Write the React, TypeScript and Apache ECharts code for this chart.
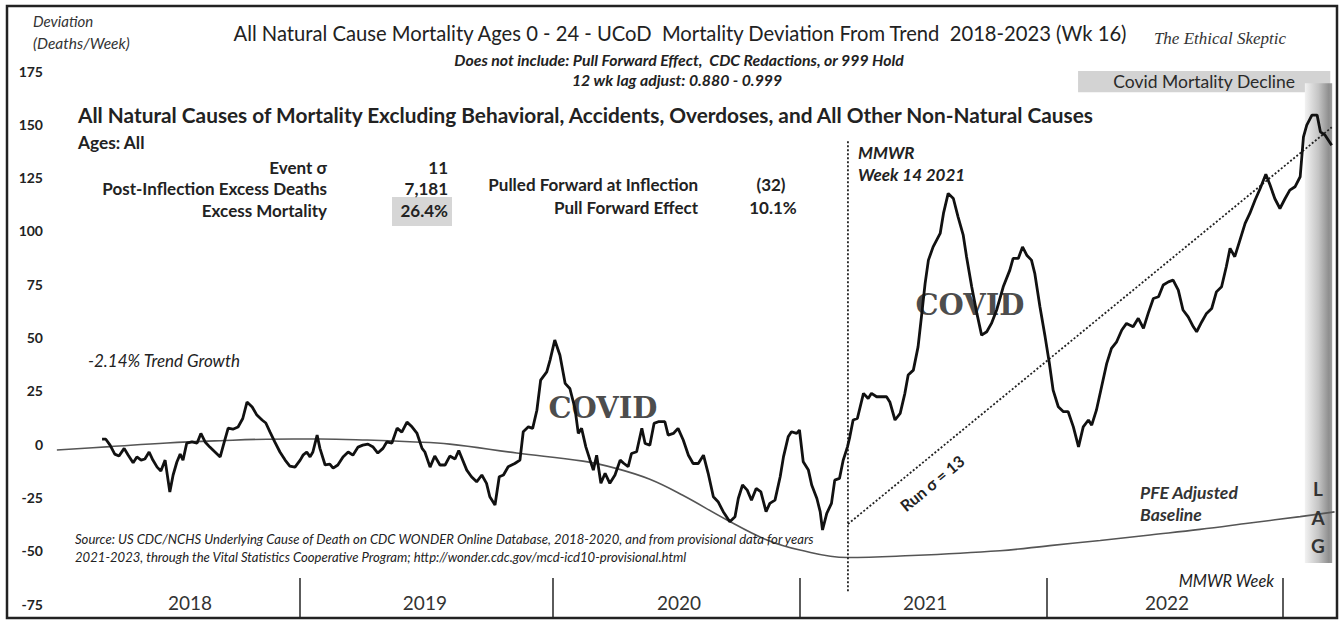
import React, { useEffect, useRef } from "react";
import * as echarts from "echarts";

// ---- Data ----
// x = MMWR week index counted from the first week of 2018, y = deaths/week deviation
const deviationPoints: [number, number][] = [
  [10.0, 2.3], [10.8, 2.3], [11.7, -0.5], [12.7, -4.7], [13.6, -5.6], [14.7, -2], [15.5, -5], [16.6, -8.8],
  [17.4, -6], [18.3, -7.5], [19.1, -7], [20.0, -3.7], [20.8, -7.5], [21.7, -10.8], [22.5, -12.6], [23.4, -7.5],
  [24.4, -22.5], [25.1, -14.5], [25.9, -8.4], [26.6, -4.7], [27.2, -7.5], [28.0, 0.5], [29.1, 1], [30.2, 0.5],
  [31.0, 5], [31.9, 1], [32.9, -1.4], [34.0, -3.7], [35.1, -6], [35.9, 0.5], [36.8, 7.5], [37.8, 7],
  [38.9, 8], [39.9, 12], [40.8, 19.7], [41.9, 17.4], [42.9, 13.6], [44.0, 11.3], [44.8, 9.9], [45.7, 5.6],
  [46.7, 1], [47.8, -3.7], [48.9, -7.5], [49.9, -10.3], [51.0, -10.8], [52.1, -7.5], [52.7, -5.2], [53.5, -3.7],
  [54.2, -6], [54.8, -3.7], [55.7, 4.2], [56.3, -2], [57.4, -9.8], [58.4, -9.4], [59.1, -11.3], [60.1, -9.8],
  [61.2, -6], [62.3, -3.7], [63.3, -5.2], [64.4, -1.4], [65.4, -0.5], [66.5, 0], [67.6, -1.4], [68.6, -4.2],
  [69.7, -2], [70.5, 1], [71.6, 0.5], [72.7, 7.5], [73.7, 5.6], [74.8, 10.3], [75.9, 8], [76.9, 5.2],
  [78.0, -2], [78.6, -3.7], [79.7, -10.8], [80.7, -5.6], [81.8, -9.8], [82.9, -9.8], [83.9, -5.6],
  [85.0, -7], [85.8, -3], [87.5, -12.2], [88.5, -15.3], [89.6, -17.7], [90.7, -14.5], [91.7, -18.4], [92.4, -24.7],
  [93.5, -28.6], [94.4, -15.3], [95.3, -14.5], [96.3, -10.6], [97.7, -9.1], [98.8, -7.5], [99.5, 5.8], [100.6, 8.1],
  [101.5, 7.4], [102.4, 15.9], [103.2, 30], [104.5, 33.9], [105.2, 39.4], [106.2, 48.8], [107.3, 41.7], [108.4, 28.5],
  [109.4, 26.1], [110.5, 16.7], [111.2, 5], [111.9, 7.4], [112.8, -1.3], [113.7, -7.5], [114.4, -12.2], [115.1, -5.2],
  [116.0, -18.4], [116.9, -13.7], [117.9, -18.4], [119.0, -14.5], [120.1, -7.5], [120.9, -9.1], [121.8, -10.6], [122.5, -4.4],
  [123.6, -3.6], [124.7, 7.4], [125.4, 0.3], [126.4, -0.5], [127.3, 9.7], [128.2, 10.5], [129.6, 10.5], [130.3, 4.2],
  [131.4, 5], [132.4, 7.4], [133.5, 1.9], [134.6, -5.2], [135.6, -9.1], [136.7, -9.1], [137.8, -5.2], [138.8, -13.7],
  [139.9, -24.7], [140.9, -27], [142.0, -31.7], [143.4, -36.4], [144.5, -34.1], [145.2, -25.5], [146.1, -19.2], [147.1, -21.6],
  [148.0, -26.3], [149.0, -20.8], [150.0, -22.4], [151.1, -31.7], [151.9, -27.8], [153.0, -26.3], [154.1, -15.3], [154.8, -6],
  [155.8, 3.4], [156.5, 5.8], [157.6, 5], [158.2, 6.6], [159.0, -8.3], [160.1, -12.2], [160.8, -19.2], [161.9, -25.5],
  [162.6, -31.7], [163.1, -40.3], [164.0, -32.5], [165.0, -27.8], [165.7, -16.9], [166.7, -16.1], [167.5, -7.5], [168.4, -1.3],
  [168.9, 3.4], [169.6, 11.3], [170.5, 12],
  [171.8, 23.8], [172.8, 21.4], [173.5, 23.8], [174.6, 22.2], [176.7, 22.2], [177.4, 19.8], [178.5, 11.3], [179.6, 14.4],
  [180.6, 23.8], [181.3, 32.4], [182.4, 34.7], [183.4, 45.6], [184.2, 61.3], [184.9, 75.4], [185.6, 86.3], [186.6, 92.5],
  [188.1, 98.8], [188.8, 108.2], [189.8, 117.6], [190.9, 115.2], [191.9, 106.6], [193.0, 98], [193.7, 87.9], [194.8, 73.8],
  [195.9, 61.3], [196.9, 51.1], [198.0, 52.7], [199.0, 56.6], [200.1, 62.9], [201.5, 73.8], [202.9, 81.6], [203.6, 87.1],
  [204.7, 87.1], [205.6, 92.5], [206.5, 88.6], [207.5, 86.3], [208.2, 80.1], [209.3, 64.4], [210.4, 50.3], [211.3, 37.9],
  [212.1, 25.3], [213.2, 17.5], [214.3, 15.2], [215.3, 15.2], [216.4, 8.1], [217.5, -1.3], [218.5, 8.1], [219.6, 11.3],
  [220.3, 8.9], [221.3, 15.9], [222.4, 26.9], [223.5, 37.9], [224.5, 44.9], [225.6, 48], [226.7, 53.5], [227.7, 56.6],
  [229.1, 55], [230.2, 59], [231.3, 54.3], [232.3, 61.3], [233.4, 68.3], [234.5, 69.1], [235.5, 74.6], [236.6, 76.1],
  [237.6, 76.9], [238.7, 72.2], [239.7, 62.9], [240.8, 59.7], [241.9, 55], [242.6, 52.7], [243.7, 57.4], [244.7, 61.3],
  [245.8, 63.6], [246.8, 71.4], [247.9, 73.8], [248.9, 83.2], [249.7, 91.8], [250.7, 87.9], [251.8, 95.7], [252.9, 103.5],
  [253.9, 108.2], [255.0, 114.4], [256.1, 119.9], [257.3, 126.6], [258.2, 121.5], [259.2, 115.2], [260.3, 110.5], [261.4, 115.2],
  [262.4, 119.1], [263.5, 120.7], [264.6, 125.4], [265.3, 144.1], [266.0, 149.6], [267.1, 154.3], [268.2, 154.3], [268.9, 146.5],
  [269.9, 144.9], [271.3, 140.2],
];

const baselinePoints: [number, number][] = [
  [0.4, -2.8], [11.7, -1.2], [23.8, 0.5], [35.1, 1.6], [45.0, 2.3], [56.3, 2.4], [66.3, 1.9], [75.4, 1.1],
  [83.9, 0], [98.1, -4.2], [112.2, -8], [119.4, -11.5], [126.4, -16.5], [133.4, -24], [142.8, -35.6], [151.3, -45],
  [158.3, -49.7], [168.3, -53.2], [179.6, -52.5], [200.8, -50], [211.4, -47.6], [222.1, -45.2], [232.7, -42.6],
  [243.3, -40], [253.9, -37], [264.6, -34], [271.9, -31.8],
];

const trendPoints: [number, number][] = [[168.5, -37.5], [271.3, 148.6]];
const inflectionPoints: [number, number][] = [[168.5, 142], [168.5, -70]];

const yearLabels = ["2018", "2019", "2020", "2021", "2022"];
const yearLabelWeeks = [28.7, 78.6, 132.6, 184.9, 236.3];
const yearBoundaryWeeks = [52.1, 105.8, 158.3, 210.8, 261.0];

const yMin = -75;
const yMax = 175;
const yStep = 25;

// annotation areas (week / value ranges)
const declineArea = { x0: 217.4, x1: 271.0, y0: 165, y1: 175 };
const lagArea = { x0: 265.6, x1: 271.4, y0: -55.8, y1: 169.3 };

export default function App() {
  const ref = useRef<HTMLDivElement>(null);

  useEffect(() => {
    document.body.style.margin = "0";
    if (!ref.current) return;
    const chart = echarts.init(ref.current, undefined, { renderer: "svg" });

    const F = "Lato, 'Open Sans', sans-serif";
    const txt = (
      text: string,
      x: number,
      y: number,
      font: string,
      align: string = "left",
      extra: any = {}
    ) => ({
      type: "text",
      x,
      y,
      z: extra.z ?? 10,
      rotation: extra.rotation ?? 0,
      silent: true,
      style: {
        text,
        font,
        fill: extra.fill ?? "#222",
        textAlign: align,
        textVerticalAlign: "middle",
      },
    });

    const lagGradient = new echarts.graphic.LinearGradient(0, 0, 1, 0, [
      { offset: 0, color: "#f2f2f2" },
      { offset: 0.5, color: "#c4c4c4" },
      { offset: 0.88, color: "#8e8e8e" },
      { offset: 1, color: "#a0a0a0" },
    ]);

    const option: any = {
      animation: false,
      backgroundColor: "#ffffff",
      grid: [
        { left: 55, right: 6, top: 71, bottom: 20 },
        { left: 55, right: 6, top: 578, height: 40 },
      ],
      xAxis: [
        { type: "value", gridIndex: 0, min: 0, max: 272, show: false },
        {
          type: "value",
          gridIndex: 1,
          min: 0,
          max: 272,
          axisLine: { show: false },
          splitLine: { show: false },
          axisTick: {
            show: true,
            inside: true,
            length: 40,
            customValues: yearBoundaryWeeks,
            lineStyle: { color: "#333", width: 1.6 },
          },
          axisLabel: {
            inside: true,
            customValues: yearLabelWeeks,
            margin: 6,
            fontSize: 19,
            fontFamily: F,
            color: "#333",
            formatter: (v: number) => {
              let best = 0;
              yearLabelWeeks.forEach((w, i) => {
                if (Math.abs(w - v) < Math.abs(yearLabelWeeks[best] - v)) best = i;
              });
              return yearLabels[best];
            },
          },
        },
      ],
      yAxis: [
        {
          type: "value",
          gridIndex: 0,
          min: yMin,
          max: yMax,
          interval: yStep,
          axisLine: { show: false },
          axisTick: { show: false },
          splitLine: { show: false },
          axisLabel: {
            fontWeight: "bold",
            fontSize: 14,
            fontFamily: F,
            color: "#222",
            margin: 12,
          },
        },
        { type: "value", gridIndex: 1, min: 0, max: 1, show: false },
      ],
      series: [
        {
          name: "PFE Adjusted Baseline",
          type: "line",
          xAxisIndex: 0,
          yAxisIndex: 0,
          data: baselinePoints,
          smooth: 0.4,
          symbol: "none",
          lineStyle: { color: "#555", width: 1.6 },
          z: 2,
          markArea: {
            silent: true,
            z: 1,
            data: [
              [
                {
                  xAxis: declineArea.x0,
                  yAxis: declineArea.y1,
                  itemStyle: { color: "#d3d3d3" },
                  label: {
                    show: true,
                    position: "inside",
                    formatter: "Covid Mortality Decline",
                    color: "#2a2a2a",
                    fontSize: 17.5,
                    fontFamily: F,
                  },
                },
                { xAxis: declineArea.x1, yAxis: declineArea.y0 },
              ],
              [
                {
                  xAxis: lagArea.x0,
                  yAxis: lagArea.y1,
                  itemStyle: { color: lagGradient },
                  label: { show: false },
                },
                { xAxis: lagArea.x1, yAxis: lagArea.y0 },
              ],
            ],
          },
        },
        {
          name: "Run trend",
          type: "line",
          data: trendPoints,
          symbol: "none",
          lineStyle: { color: "#222", width: 1.8, type: [2, 2] },
          z: 2,
        },
        {
          name: "Inflection",
          type: "line",
          data: inflectionPoints,
          symbol: "none",
          lineStyle: { color: "#222", width: 1.8, type: [2, 2] },
          z: 2,
        },
        {
          name: "Deviation",
          type: "line",
          data: deviationPoints,
          symbol: "none",
          lineStyle: { color: "#111", width: 2.8 },
          z: 4,
        },
      ],
      graphic: [
        {
          type: "rect",
          z: 1,
          silent: true,
          shape: { x: 392, y: 197, width: 60, height: 29 },
          style: { fill: "#d6d6d6" },
        },
        txt("Deviation", 33, 21, `italic 15px ${F}`, "left", { fill: "#333" }),
        txt("(Deaths/Week)", 33, 43, `italic 15.5px ${F}`, "left", { fill: "#333" }),
        txt(
          "All Natural Cause Mortality Ages 0 - 24 - UCoD  Mortality Deviation From Trend  2018-2023 (Wk 16)",
          680,
          33,
          `20.2px ${F}`,
          "center"
        ),
        txt(
          "Does not include: Pull Forward Effect,  CDC Redactions, or 999 Hold",
          679,
          59,
          `italic bold 15.8px ${F}`,
          "center"
        ),
        txt("12 wk lag adjust: 0.880 - 0.999", 677, 79, `italic bold 15.8px ${F}`, "center"),
        txt("The Ethical Skeptic", 1220, 38, "italic 17px 'Liberation Serif', serif", "center", { fill: "#333" }),
        txt(
          "All Natural Causes of Mortality Excluding Behavioral, Accidents, Overdoses, and All Other Non-Natural Causes",
          78,
          114,
          `bold 20.8px ${F}`,
          "left"
        ),
        txt("Ages: All", 78, 142, `bold 17.3px ${F}`),
        txt("Event σ", 327, 167, `bold 17px ${F}`, "right"),
        txt("Post-Inflection Excess Deaths", 327, 188, `bold 17px ${F}`, "right"),
        txt("Excess Mortality", 327, 210, `bold 17px ${F}`, "right"),
        txt("11", 448, 167, `bold 17px ${F}`, "right"),
        txt("7,181", 448, 188, `bold 17px ${F}`, "right"),
        txt("26.4%", 448, 210, `bold 17px ${F}`, "right"),
        txt("Pulled Forward at Inflection", 698, 184, `bold 17px ${F}`, "right"),
        txt("Pull Forward Effect", 698, 207, `bold 17px ${F}`, "right"),
        txt("(32)", 771, 184, `bold 17px ${F}`, "center"),
        txt("10.1%", 773, 207, `bold 17px ${F}`, "center"),
        txt("MMWR", 858, 152, `italic bold 17px ${F}`),
        txt("Week 14 2021", 858, 174, `italic bold 17px ${F}`),
        txt("-2.14% Trend Growth", 88, 360, `italic 17px ${F}`),
        txt("COVID", 603, 408, "bold 29px 'DejaVu Serif', serif", "center", { fill: "rgba(45,45,45,0.85)", z: 1 }),
        txt("COVID", 970, 305, "bold 29px 'DejaVu Serif', serif", "center", { fill: "rgba(45,45,45,0.85)", z: 1 }),
        txt("Run σ = 13", 932, 483, `bold 16px ${F}`, "center", { rotation: 0.688 }),
        txt("PFE Adjusted", 1140, 492, `italic bold 17.5px ${F}`, "left", { fill: "#333" }),
        txt("Baseline", 1140, 514, `italic bold 17.5px ${F}`, "left", { fill: "#333" }),
        txt("MMWR Week", 1274, 580, `italic 16.4px ${F}`, "right"),
        txt("L", 1318, 488, `bold 19px ${F}`, "center", { fill: "#333", z: 12 }),
        txt("A", 1318, 517, `bold 19px ${F}`, "center", { fill: "#333", z: 12 }),
        txt("G", 1318, 545, `bold 19px ${F}`, "center", { fill: "#333", z: 12 }),
        txt(
          "Source: US CDC/NCHS Underlying Cause of Death on CDC WONDER Online Database, 2018-2020, and from provisional data for years",
          75,
          539,
          `italic 13.1px ${F}`
        ),
        txt(
          "2021-2023, through the Vital Statistics Cooperative Program; http://wonder.cdc.gov/mcd-icd10-provisional.html",
          75,
          557,
          `italic 13.1px ${F}`
        ),
        {
          type: "rect",
          z: 30,
          silent: true,
          shape: { x: 7, y: 6, width: 1330, height: 612 },
          style: { fill: "none", stroke: "#222", lineWidth: 2.5 },
        },
      ],
    };

    chart.setOption(option);
    return () => chart.dispose();
  }, []);

  return <div ref={ref} style={{ width: "1341px", height: "624px" }} />;
}
